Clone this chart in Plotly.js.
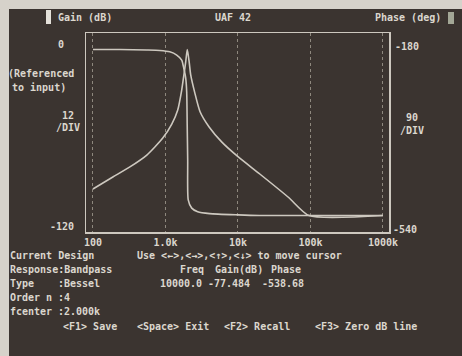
<!DOCTYPE html>
<html>
<head>
<meta charset="utf-8">
<script src="https://cdn.plot.ly/plotly-3.0.1.min.js"></script>
<style>
  html, body { margin: 0; padding: 0; background: #d6d2ca; width: 462px; height: 356px; overflow: hidden; }
  #chart { position: absolute; left: 9px; top: 9px; width: 453px; height: 347px; }
</style>
</head>
<body>
<div id="chart"></div>
<script>
const gainFreq = [100, 188, 323, 553, 918, 1222, 1476, 1675, 1786, 1902, 2000, 2123, 2229, 2529, 3000, 4000, 6000, 10000, 20000, 50000, 95000, 1000000];
const gainDb   = [-100.8, -92.2, -84.9, -76.3, -64.0, -53.9, -43.7, -29.3, -19.2, -9.0, 0, -9.0, -18.4, -31, -45, -56, -67, -77.5, -90, -107, -120, -120];

const phaseFreq = [100, 235, 553, 836, 1146, 1430, 1675, 1786, 1902, 1963, 1994, 2026, 2060, 2302, 2783, 4064, 10000, 19800, 70300, 1000000];
const phaseDeg  = [-180, -180, -181, -182, -185, -192, -203, -220, -242, -272, -344, -420, -506, -524, -532, -536, -538.7, -540, -540, -540];

const xTickVals = [100, 1000, 10000, 100000, 1000000];
const xTickText = ['100', '1.0k', '10k', '100k', '1000k'];

const cursorFreq = '10000.0';
const cursorGain = '-77.484';
const cursorPhase = '-538.68';

// ---- styling ----
const BG = '#3b3430';
const FG = '#dcd7ce';
const LINE = '#cdc8bf';
const FONT = 'DejaVu Sans Mono, Liberation Mono, monospace';

// page pixel -> paper coords (plot area spans page x 86..389, y 33..232)
function PX(px) { return (px - 86) / 303; }
function PY(py) { return (232 - py) / 199; }

function txt(text, px, py, anchor) {
  return {
    text: text, x: PX(px), y: PY(py), xref: 'paper', yref: 'paper',
    xanchor: anchor || 'left', yanchor: 'middle', showarrow: false,
    font: { family: FONT, size: 10, color: FG, weight: 'bold' }
  };
}

const annotations = [
  txt('Gain (dB)', 56, 17),
  txt('UAF 42', 233, 17, 'center'),
  txt('Phase (deg)', 443, 17, 'right'),
  txt('0', 61, 44, 'center'),
  txt('(Referenced', 41, 73, 'center'),
  txt('to input)', 39, 87, 'center'),
  txt('12', 68, 115, 'center'),
  txt('/DIV', 68, 128, 'center'),
  txt('-120', 62, 226, 'center'),
  txt('-180', 407, 47, 'center'),
  txt('90', 412, 117, 'center'),
  txt('/DIV', 412, 130, 'center'),
  txt('-540', 405, 229, 'center'),
  txt('Current Design', 8, 255),
  txt('Use <\u2190>,<\u2192>,<\u2191>,<\u2193> to move cursor', 135, 255),
  txt('Response:Bandpass', 8, 269),
  txt('Freq', 192, 269, 'center'),
  txt('Gain(dB)', 239, 269, 'center'),
  txt('Phase', 286, 269, 'center'),
  txt('Type', 8, 283),
  txt(':Bessel', 56, 283),
  txt(cursorFreq, 181, 283, 'center'),
  txt(cursorGain, 229, 283, 'center'),
  txt(cursorPhase, 283, 283, 'center'),
  txt('Order n', 8, 297),
  txt(':4', 56, 297),
  txt('fcenter', 8, 311),
  txt(':2.000k', 56, 311),
  txt('<F1> Save', 61, 326),
  txt('<Space> Exit', 135, 326),
  txt('<F2> Recall', 222, 326),
  txt('<F3> Zero dB line', 313, 326)
];

const shapes = [
  { type: 'rect', xref: 'paper', yref: 'paper', x0: PX(46), x1: PX(51), y0: PY(24), y1: PY(10),
    fillcolor: '#e4e1da', line: { width: 0 } },
  { type: 'rect', xref: 'paper', yref: 'paper', x0: PX(448), x1: PX(454), y0: PY(24), y1: PY(12),
    fillcolor: '#a3a796', line: { width: 0 } }
];

const traces = [
  { x: gainFreq, y: gainDb, type: 'scatter', mode: 'lines', yaxis: 'y',
    line: { color: LINE, width: 1.6, shape: 'spline', smoothing: 0.6 }, hoverinfo: 'skip' },
  { x: phaseFreq, y: phaseDeg, type: 'scatter', mode: 'lines', yaxis: 'y2',
    line: { color: LINE, width: 1.6, shape: 'spline', smoothing: 0.6 }, hoverinfo: 'skip' }
];

const layout = {
  width: 453, height: 347,
  margin: { l: 77, r: 73, t: 24, b: 124, pad: 0 },
  paper_bgcolor: BG, plot_bgcolor: BG,
  showlegend: false,
  font: { family: FONT, size: 10, color: FG },
  xaxis: {
    type: 'log', range: [1.904, 6.083],
    tickvals: xTickVals, ticktext: xTickText,
    showgrid: true, gridcolor: '#8e887e', griddash: 'dot', gridwidth: 1,
    showline: true, linecolor: LINE, linewidth: 1.5, mirror: true,
    ticks: '', zeroline: false,
    tickfont: { family: FONT, size: 10, color: FG, weight: 'bold' }
  },
  yaxis: {
    range: [-131.93, 11.93], showgrid: false, zeroline: false,
    showticklabels: false, ticks: '',
    showline: true, linecolor: LINE, linewidth: 1.5, mirror: true
  },
  yaxis2: {
    range: [-575.8, -144.2], overlaying: 'y', side: 'right',
    showgrid: false, zeroline: false, showticklabels: false, ticks: '', showline: false
  },
  annotations: annotations,
  shapes: shapes
};

Plotly.newPlot('chart', traces, layout, { staticPlot: true, displayModeBar: false });
</script>
</body>
</html>
